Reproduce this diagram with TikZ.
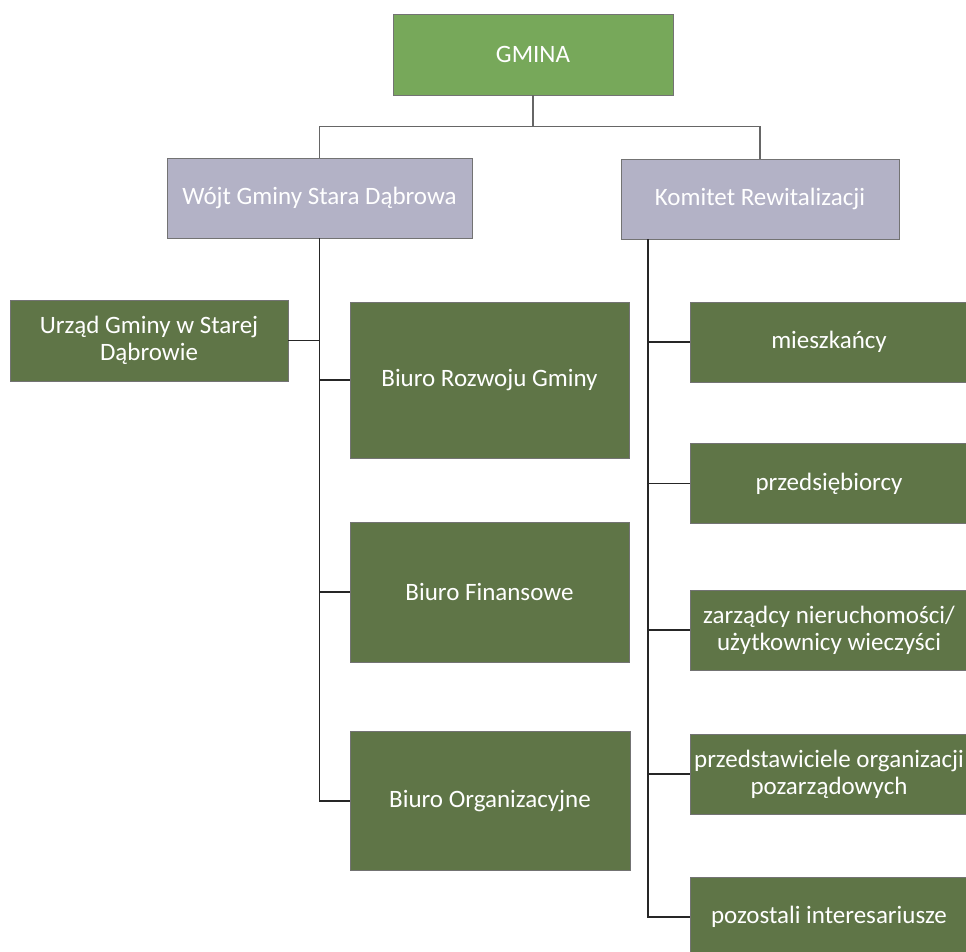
\documentclass[tikz,border=0pt]{standalone}
\usepackage{fontspec}
\setmainfont{Carlito}
\usepackage{tikz}

\definecolor{gminagreen}{HTML}{77A85A}
\definecolor{leadgrey}{HTML}{B3B2C6}
\definecolor{unitgreen}{HTML}{5F7547}

\begin{document}
\begin{tikzpicture}[x=1pt, y=-1pt,
        box/.style={draw=black!55, line width=0.6pt, text=white, align=center,
                    inner sep=0pt, font=\fontsize{25}{27}\selectfont},
        topbox/.style={box, fill=gminagreen},
        leadbox/.style={box, fill=leadgrey},
        unitbox/.style={box, fill=unitgreen},
        link/.style={draw=black!85, line width=1.8pt},
        toplink/.style={draw=black!60, line width=1.5pt}]
            \useasboundingbox (0,0) rectangle (966,952);
            % top level
            \node[topbox, minimum width=280, minimum height=81] (gmina) at (533,54.5) {GMINA};
            \node[leadbox, minimum width=305, minimum height=80] (wojt) at (319.5,198) {Wójt Gminy Stara Dąbrowa};
            \node[leadbox, minimum width=278, minimum height=80] (komitet) at (760,199) {Komitet Rewitalizacji};
            \draw[toplink] (gmina.south) -- ++(0,31) -| (wojt.north);
            \draw[toplink] (gmina.south) -- ++(0,31) -| (komitet.north);
            % left branch
            \node[unitbox, minimum width=278, minimum height=81] (urzad) at (149,340.5) {Urząd Gminy w Starej\\Dąbrowie};
            \node[unitbox, minimum width=279, minimum height=156] (rozwoj) at (489.5,380) {Biuro Rozwoju Gminy};
            \node[unitbox, minimum width=279, minimum height=140] (finanse) at (489.5,592) {Biuro Finansowe};
            \node[unitbox, minimum width=280, minimum height=139] (organ) at (490,801) {Biuro Organizacyjne};
            \foreach \n in {rozwoj, finanse, organ}
                \draw[link] (wojt.south) |- (\n.west);
            \draw[link] (urzad.east) -- (urzad.east -| wojt.south);
            % right branch
            \coordinate (rspine) at ([xshift=27]komitet.south west);
            \foreach \n/\y/\t in {mieszk/342/{mieszkańcy},
                                  przeds/483.5/{przedsiębiorcy},
                                  zarz/630/{zarządcy nieruchomości/\\użytkownicy wieczyści},
                                  przedst/774/{przedstawiciele organizacji\\pozarządowych},
                                  pozost/917/{pozostali interesariusze}}
                \node[unitbox, minimum width=278, minimum height=80] (\n) at (829,\y) {\t};
            \foreach \n in {mieszk, przeds, zarz, przedst, pozost}
                \draw[link] (rspine) |- (\n.west);
        \end{tikzpicture}
\end{document}
